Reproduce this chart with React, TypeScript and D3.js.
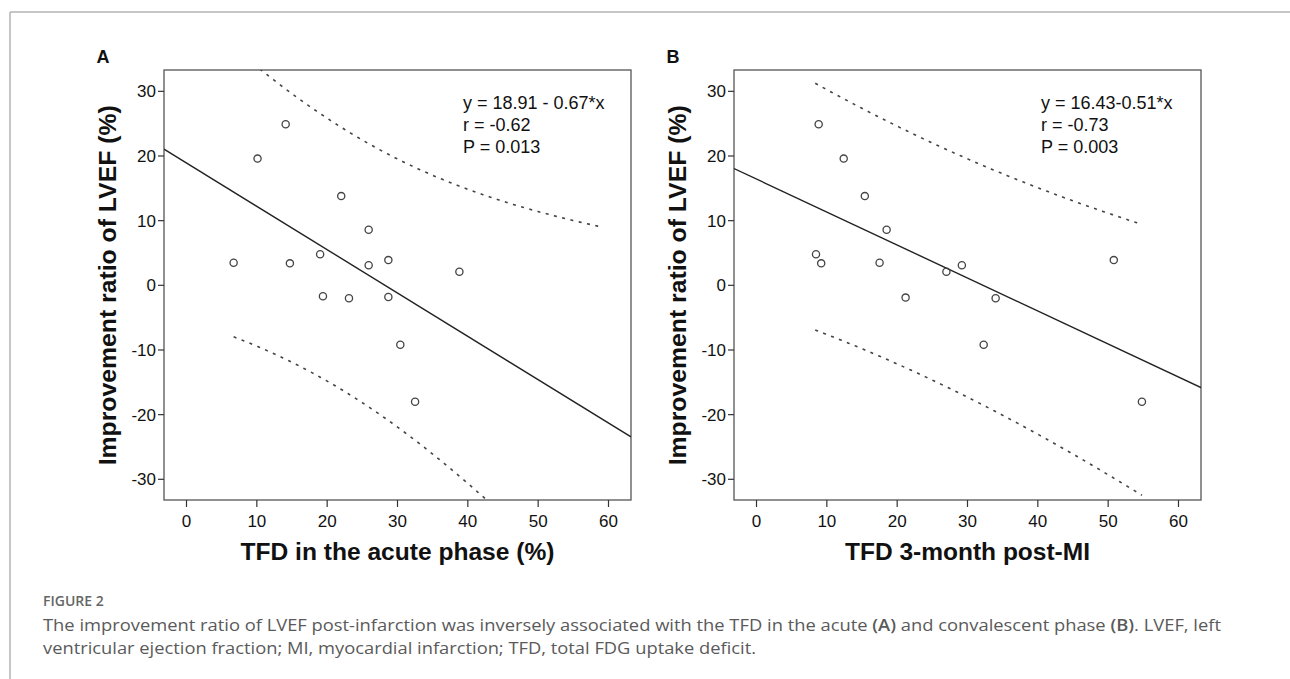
import React from 'react'
import * as d3 from 'd3'

// panel A: TFD in the acute phase vs improvement ratio of LVEF
const tfdAcute = [6.7, 10.1, 14.1, 14.7, 19.0, 19.4, 22.0, 23.1, 25.9, 25.9, 28.7, 28.7, 30.4, 38.8, 32.5]
const lvefA = [3.5, 19.6, 24.9, 3.4, 4.8, -1.7, 13.8, -2.0, 8.6, 3.1, 3.9, -1.8, -9.2, 2.1, -18.0]

// panel B: TFD 3-month post-MI vs improvement ratio of LVEF
const tfd3m = [8.84, 12.4, 15.4, 18.5, 8.46, 9.2, 17.5, 21.2, 27.0, 29.2, 34.0, 32.3, 50.8, 54.8]
const lvefB = [24.9, 19.6, 13.8, 8.6, 4.8, 3.4, 3.5, -1.9, 2.1, 3.1, -2.0, -9.2, 3.9, -18.0]

const fitA = { a: 18.91, b: -0.67 }
const fitB = { a: 16.43, b: -0.51 }
const bandRangeA = [6.7, 59.3]
const bandRangeB = [8.35, 54.8]

const statsA = ['y = 18.91 - 0.67*x', 'r = -0.62', 'P = 0.013']
const statsB = ['y = 16.43-0.51*x', 'r = -0.73', 'P = 0.003']

const xTicks = [0, 10, 20, 30, 40, 50, 60]
const yTicks = [30, 20, 10, 0, -10, -20, -30]
const xDomain = [-3.2, 63.2]
const yDomain = [-33.2, 33.3]

// two-sided 95% t quantiles by degrees of freedom
const tCrit: Record<number, number> = { 12: 2.179, 13: 2.160 }

const FONT = '"Liberation Sans", Arial, sans-serif'

type PanelProps = {
  id: string
  letter: string
  left: number
  xs: number[]
  ys: number[]
  fit: { a: number; b: number }
  bandRange: number[]
  stats: string[]
  xTitle: string
  xTitleLen: number
}

const Panel = ({ id, letter, left, xs, ys, fit, bandRange, stats, xTitle, xTitleLen }: PanelProps) => {
  const top = 70
  const bottom = 500
  const right = left + 467
  const x = d3.scaleLinear().domain(xDomain).range([left, right])
  const y = d3.scaleLinear().domain(yDomain).range([bottom, top])

  // 95% prediction interval around the fitted line
  const n = xs.length
  const xbar = d3.mean(xs) as number
  const sxx = d3.sum(xs, (v) => (v - xbar) ** 2)
  const sse = d3.sum(xs, (v, i) => (ys[i] - (fit.a + fit.b * v)) ** 2)
  const se = Math.sqrt(sse / (n - 2))
  const t = tCrit[n - 2]
  const halfWidth = (v: number) => t * se * Math.sqrt(1 + 1 / n + (v - xbar) ** 2 / sxx)
  const grid = d3.range(bandRange[0], bandRange[1], 0.25).concat([bandRange[1]])
  const upper = d3.line<number>().x((v) => x(v)).y((v) => y(fit.a + fit.b * v + halfWidth(v)))
  const lower = d3.line<number>().x((v) => x(v)).y((v) => y(fit.a + fit.b * v - halfWidth(v)))

  const clipId = `clip-${id}`

  return (
    <g fontFamily={FONT}>
      <defs>
        <clipPath id={clipId}>
          <rect x={left} y={top} width={right - left} height={bottom - top} />
        </clipPath>
      </defs>
      <text x={x(xDomain[0]) - 61} y={63} fontSize={18} fontWeight="bold" textAnchor="middle" fill="#111">{letter}</text>

      <rect x={left} y={top} width={right - left} height={bottom - top} fill="none" stroke="#555" strokeWidth={1.3} />

      {yTicks.map((v) => (
        <g key={`y${v}`}>
          <line x1={left - 6} x2={left} y1={y(v)} y2={y(v)} stroke="#333" strokeWidth={1.2} />
          <text x={left - 8} y={y(v)} dy="0.36em" textAnchor="end" fontSize={17} fill="#111">{v}</text>
        </g>
      ))}
      {xTicks.map((v) => (
        <g key={`x${v}`}>
          <line x1={x(v)} x2={x(v)} y1={bottom} y2={bottom + 7} stroke="#333" strokeWidth={1.2} />
          <text x={x(v)} y={521} dy="0.36em" textAnchor="middle" fontSize={17} fill="#111">{v}</text>
        </g>
      ))}

      <text
        transform={`translate(${left - 48},${y(0)}) rotate(-90)`}
        textAnchor="middle"
        fontSize={23}
        fontWeight="bold"
        fill="#111"
        textLength={360}
        lengthAdjust="spacingAndGlyphs"
      >
        Improvement ratio of LVEF (%)
      </text>
      <text
        x={(left + right) / 2}
        y={560}
        textAnchor="middle"
        fontSize={23}
        fontWeight="bold"
        fill="#111"
        textLength={xTitleLen}
        lengthAdjust="spacingAndGlyphs"
      >
        {xTitle}
      </text>

      <g clipPath={`url(#${clipId})`}>
        <line
          x1={x(xDomain[0])}
          x2={x(xDomain[1])}
          y1={y(fit.a + fit.b * xDomain[0])}
          y2={y(fit.a + fit.b * xDomain[1])}
          stroke="#222"
          strokeWidth={1.4}
        />
        <path d={upper(grid) || ''} fill="none" stroke="#444" strokeWidth={1.6} strokeDasharray="3,5.5" />
        <path d={lower(grid) || ''} fill="none" stroke="#444" strokeWidth={1.6} strokeDasharray="3,5.5" />
        {xs.map((v, i) => (
          <circle key={i} cx={x(v)} cy={y(ys[i])} r={3.6} fill="none" stroke="#444" strokeWidth={1.3} />
        ))}
      </g>

      {stats.map((s, i) => (
        <text key={s} x={left + (id === 'a' ? 299 : 307)} y={103 + i * 22} dy="0.36em" fontSize={18} fill="#111">{s}</text>
      ))}
    </g>
  )
}

const App = () => (
  <svg width={1290} height={679} style={{ position: 'absolute', left: 0, top: 0, background: '#fff' }}>
    <line x1={10} x2={1290} y1={12} y2={12} stroke="#b3b3b3" strokeWidth={1.5} />
    <line x1={10} x2={10} y1={12} y2={679} stroke="#b3b3b3" strokeWidth={1.5} />

    <Panel id="a" letter="A" left={164} xs={tfdAcute} ys={lvefA} fit={fitA} bandRange={bandRangeA}
      stats={statsA} xTitle="TFD in the acute phase (%)" xTitleLen={314} />
    <Panel id="b" letter="B" left={734} xs={tfd3m} ys={lvefB} fit={fitB} bandRange={bandRangeB}
      stats={statsB} xTitle="TFD 3-month post-MI" xTitleLen={245} />

    <g fontFamily='"Open Sans", "Noto Sans", sans-serif' fill="#5a5a5a">
      <text x={43} y={606} fontSize={14} fontWeight={600} fill="#666">FIGURE 2</text>
      <text x={43} y={631} fontSize={17} textLength={1178} lengthAdjust="spacingAndGlyphs">
        The improvement ratio of LVEF post-infarction was inversely associated with the TFD in the acute{' '}
        <tspan fontWeight={600}>(A)</tspan> and convalescent phase <tspan fontWeight={600}>(B)</tspan>. LVEF, left
      </text>
      <text x={43} y={654} fontSize={17} textLength={713} lengthAdjust="spacingAndGlyphs">
        ventricular ejection fraction; MI, myocardial infarction; TFD, total FDG uptake deficit.
      </text>
    </g>
  </svg>
)

export default App
